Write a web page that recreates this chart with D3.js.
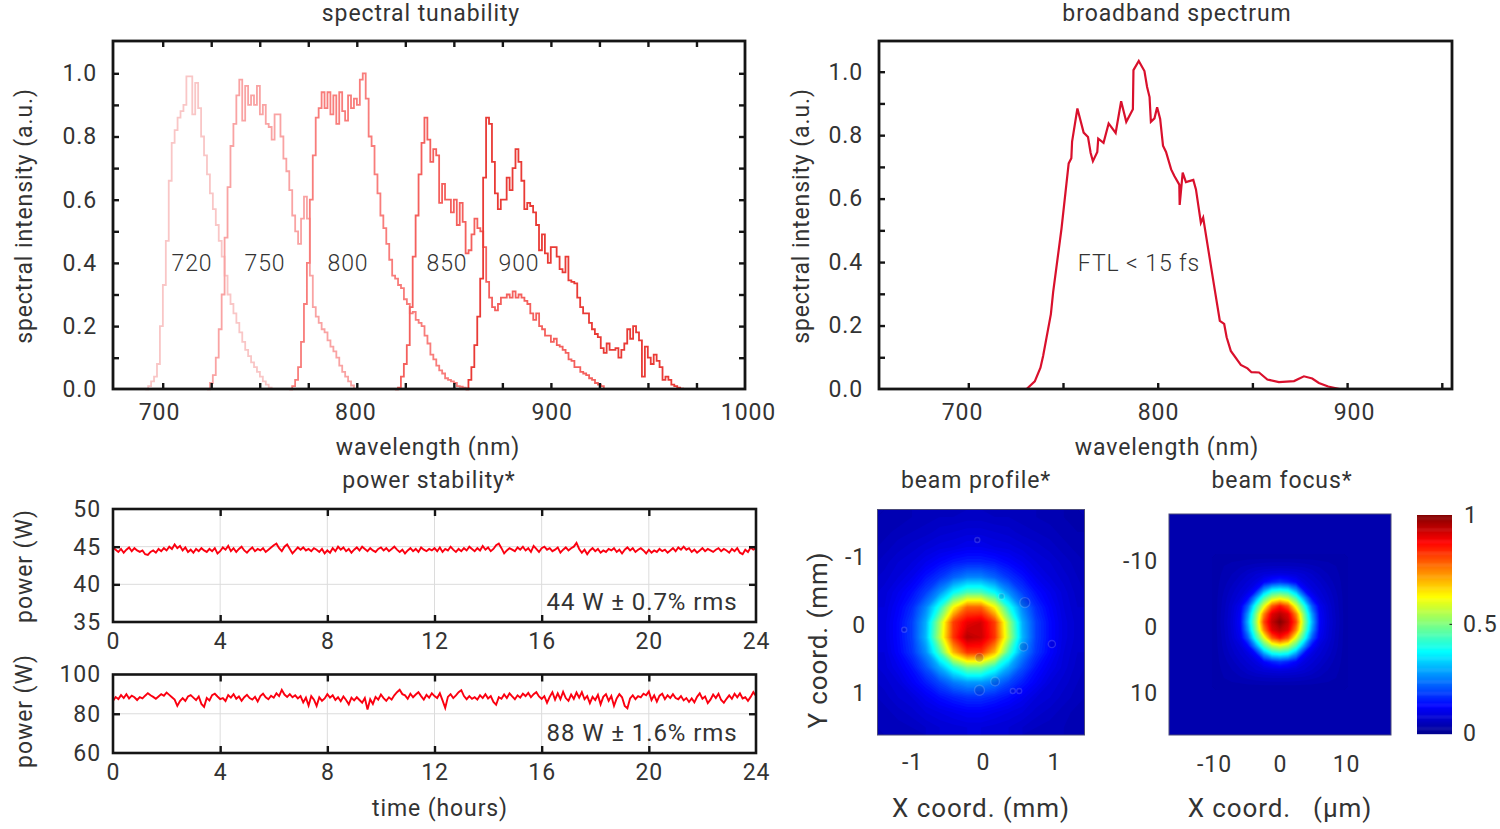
<!DOCTYPE html>
<html>
<head>
<meta charset="utf-8">
<style>
body { margin: 0; background: #fff; }
svg text { font-family: Roboto, sans-serif; font-weight: 400; fill: #333; font-size: 23px; letter-spacing: .9px; }
svg .tick text { font-size: 23px; }
</style>
<script src="https://cdn.jsdelivr.net/npm/d3@7"></script>
</head>
<body>
<svg id="chart" width="1500" height="829"></svg>
<script>
// spectral tunability: one value every 1.515 nm from the start wavelength
var tuneStep = 1.515;
var tuneLabels = ["720", "750", "800", "850", "900"];
var tuneStarts = [691, 722.8, 765.2, 819.7, 856];
var tuneColors = ["#f9c6c6", "#f9a3a3", "#f87d7b", "#f4605d", "#e93b36"];
var intensity720 = [0,.01,.025,.04,.08,.2,.33,.47,.66,.78,.82,.86,.88,.90,.99,.99,.87,.97,.89,.80,.74,.68,.62,.57,.52,.47,.42,.36,.30,.27,.24,.21,.18,.15,.125,.105,.085,.07,.055,.04,.025,.015,.005,0];
var intensity750 = [0,.02,.045,.10,.19,.30,.48,.64,.77,.84,.93,.98,.85,.96,.90,.93,.90,.96,.87,.90,.84,.83,.79,.87,.87,.80,.73,.69,.63,.55,.50,.46,.54,.61,.54,.36,.26,.23,.21,.19,.18,.155,.135,.12,.10,.075,.055,.04,.025,.012,0];
var intensity800 = [0,.01,.03,.07,.15,.27,.40,.60,.74,.86,.89,.94,.89,.94,.87,.93,.84,.94,.88,.85,.93,.89,.92,.90,.98,1.0,.92,.80,.77,.68,.62,.55,.51,.46,.41,.36,.35,.33,.32,.285,.27,.24,.245,.22,.21,.20,.17,.145,.11,.095,.075,.06,.05,.035,.03,.025,.02,.01,.008,.005,.003,0];
var intensity850 = [0,.005,.04,.08,.14,.26,.42,.55,.68,.78,.86,.79,.72,.76,.74,.59,.65,.60,.60,.56,.60,.52,.59,.53,.43,.44,.49,.54,.51,.50,.45,.34,.29,.26,.25,.27,.29,.29,.30,.29,.31,.29,.30,.29,.28,.27,.24,.22,.24,.20,.19,.17,.17,.15,.16,.14,.135,.125,.115,.095,.09,.07,.07,.055,.05,.045,.035,.03,.02,.015,.01,0];
var intensity900 = [0,.03,.07,.14,.23,.35,.67,.86,.84,.72,.62,.57,.60,.60,.67,.63,.70,.76,.72,.66,.57,.59,.58,.56,.52,.44,.49,.43,.40,.45,.45,.42,.38,.37,.42,.345,.34,.335,.29,.26,.24,.24,.21,.19,.175,.165,.13,.115,.145,.125,.125,.13,.10,.125,.145,.19,.16,.20,.18,.155,.04,.135,.10,.08,.11,.09,.07,.03,.04,.03,.015,.01,.005,.002,0];

// broadband spectrum
var broadWave = [730.8,735.1,738.1,739.5,743.6,744.8,749.2,753,754.4,754.8,757.6,760.9,763.2,764.6,765.8,768.1,768.6,771.4,774.1,777.8,780.7,783.4,786.9,787.2,790,793,794.4,795.7,796.4,798.3,799.7,801.3,802.8,804.4,807.1,808.8,811.4,811.6,813.2,814.9,818.8,820.2,822.8,824,829.9,832.8,835.1,836.4,838.6,843.9,847.4,849.5,853.5,857.9,864,872,877.2,881.6,885.1,890,896];
var broadValue = [0,.024,.067,.104,.236,.305,.505,.711,.727,.78,.884,.808,.794,.744,.718,.747,.789,.776,.837,.807,.907,.842,.882,1.005,1.034,1.002,.952,.92,.842,.853,.888,.851,.767,.747,.692,.671,.644,.58,.682,.652,.659,.629,.524,.54,.321,.215,.205,.163,.12,.076,.065,.053,.052,.03,.022,.025,.04,.033,.019,.008,0];

// power stability: one reading every 0.1 hours
var power44 = [
44.9,44.6,44.3,44.7,44.2,44.6,44.9,44.4,44.8,44.5,
44.3,44.5,44.0,43.9,44.3,44.5,44.2,44.7,44.4,44.8,
44.5,45.0,44.7,45.3,44.8,45.1,44.5,44.9,44.3,44.6,
44.2,44.7,44.4,44.8,44.5,44.3,44.7,44.4,44.8,44.1,
44.4,44.9,44.6,45.1,44.4,44.8,44.3,44.7,45.0,44.5,
44.2,44.6,44.9,44.4,44.7,44.5,44.8,44.3,44.6,44.9,
45.2,45.4,44.8,44.4,45.0,45.3,44.7,44.1,44.5,44.9,
44.6,44.9,44.5,44.7,44.4,44.8,44.6,44.3,44.7,44.1,
44.5,44.2,44.8,44.4,45.0,44.6,44.9,44.4,44.7,44.2,
44.6,44.9,44.5,45.0,44.7,44.4,44.8,44.5,44.3,44.7,
44.9,44.5,44.8,44.4,44.7,45.0,44.6,44.3,44.6,44.1,
44.5,44.8,44.4,44.7,44.3,44.9,44.6,44.4,44.7,44.5,
44.8,44.4,44.9,44.3,44.7,44.5,45.0,44.6,44.3,44.7,
44.4,44.8,44.5,45.0,44.7,44.4,44.8,44.5,45.1,44.6,
44.9,44.4,44.7,45.2,45.4,44.8,44.1,44.5,44.8,44.6,
44.4,44.9,44.6,45.0,44.5,44.8,44.3,45.1,44.7,44.3,
44.8,45.0,44.6,44.8,44.4,44.6,44.9,44.2,44.6,44.9,
44.5,44.8,45.0,45.5,44.7,44.2,44.6,44.0,44.5,44.8,
44.4,44.7,44.2,44.5,44.3,44.7,44.5,44.8,44.3,44.6,
44.1,44.6,44.9,44.5,44.8,44.3,44.6,44.8,44.5,44.1,
44.6,44.2,44.5,44.3,44.7,44.4,44.6,44.2,44.5,44.8,
44.4,44.9,44.6,45.0,44.6,44.8,44.3,44.6,44.2,44.5,
44.8,44.4,44.7,44.5,44.3,44.6,44.8,44.4,44.7,44.5,
44.2,44.7,44.4,44.8,44.2,44.0,44.6,44.3,44.9,44.6,44.8];
var power88 = [
86.5,88.5,87.5,89.5,88,90,87.8,89.2,88.4,87,
88.5,87.8,89.2,90.5,89.4,88.6,87.6,88.8,90,89.2,
90.8,89.6,88.4,87.2,84,86.5,88,86.5,88.8,89.5,
88.2,87,88.8,85,83.5,88,86.8,89.5,90.2,88.8,
87.5,88,86.5,89.5,88.2,90,87.6,88.8,86.6,88.4,
89.6,88,87.2,88.6,86.2,89,90.2,88.4,87.4,89.2,
88.2,90.4,89,92.2,89.8,88.6,90,88.4,89.4,87.8,
89,85.8,88.2,84.2,89,87.2,84,88.4,86.6,87.8,
90,88.2,89.4,87,88.4,86.4,88.8,87,84.8,88.2,
86.8,88.4,87,85.6,88,82.2,87.4,85,88.6,87.2,
89.8,88,86.6,88.4,87.2,89.4,91,92.2,90,89.4,
87.6,90.2,88.4,89.8,91,89,87.2,89.6,88.2,90.4,
89,88,90.4,86.8,83,88.6,90,88,89.4,91,
92,89,87.4,89,87.6,88.4,87.2,89.4,88,90,
87.8,89,86,84.6,88.4,87.6,89.8,88,90.4,88.8,
87.4,89.4,88.2,90.2,89,90.6,88.4,90,91,88.8,
87.6,89,85.6,88.6,91,87.2,90.4,87.4,91.2,88,
86.6,89.8,87.6,90.8,88.2,91,87.4,89,85.4,88.6,
87,89.6,84.8,88.6,90,86.6,89,84,87.8,90,
88.4,84,82.8,87.8,89.4,87.4,89,88.4,90.2,89.4,
91.4,87,89.4,86.2,89.2,90.2,87.4,89.4,88,90,
88,87.4,89,86.8,88,86,87.8,85.8,88.6,90.4,
87.6,88.8,85.4,87.2,89.8,88,90.2,87,85.6,87.6,
89.4,87.6,90.2,88.4,90.4,87.8,88.4,86.6,88.6,91,89];

// beam profile, relative intensity read on a 15 x 15 grid
var profileGrid = [
[.04,.04,.05,.055,.06,.06,.065,.065,.06,.06,.055,.05,.045,.04,.035],
[.045,.055,.06,.065,.075,.08,.085,.085,.08,.075,.065,.06,.055,.045,.04],
[.055,.065,.075,.085,.095,.10,.11,.11,.10,.095,.085,.075,.065,.055,.045],
[.065,.08,.09,.11,.13,.15,.16,.16,.15,.13,.11,.09,.08,.065,.055],
[.075,.09,.11,.145,.18,.225,.26,.26,.225,.18,.145,.11,.09,.075,.06],
[.085,.11,.14,.19,.27,.38,.45,.45,.38,.27,.19,.14,.11,.085,.065],
[.09,.125,.17,.26,.41,.63,.78,.78,.63,.41,.26,.17,.125,.09,.07],
[.095,.135,.19,.30,.54,.82,.90,.92,.82,.54,.30,.19,.135,.095,.075],
[.095,.135,.19,.31,.56,.83,.95,.93,.83,.56,.31,.19,.135,.095,.075],
[.09,.13,.18,.27,.45,.70,.83,.83,.70,.45,.27,.18,.13,.09,.07],
[.085,.11,.145,.21,.30,.41,.50,.50,.41,.30,.21,.145,.11,.085,.065],
[.075,.09,.12,.155,.20,.25,.28,.28,.25,.20,.155,.12,.09,.075,.06],
[.065,.08,.09,.115,.14,.16,.175,.175,.16,.14,.115,.09,.08,.065,.055],
[.055,.065,.075,.09,.10,.11,.12,.12,.11,.10,.09,.075,.065,.055,.045],
[.05,.055,.06,.07,.08,.085,.09,.09,.085,.08,.07,.06,.055,.05,.04]];
// dust rings on the profile: position and radius in mm
var ringX = [.59,.97,.17,-.05,-.05,.57,.42,.51,-.08,-1.11,.26];
var ringY = [-.33,.28,.83,.96,.48,.32,.97,.97,-1.25,.07,-.42];
var ringR = [.07,.05,.06,.07,.06,.06,.035,.035,.035,.035,.04];

// beam focus, relative intensity read on a 17 x 17 grid around the spot
var focusBackground = .035;
var focusGrid = [
[.035,.035,.036,.036,.037,.037,.038,.038,.038,.038,.038,.037,.037,.036,.036,.035,.035],
[.035,.04,.044,.048,.052,.056,.058,.06,.06,.06,.058,.056,.052,.048,.044,.04,.035],
[.035,.043,.05,.058,.07,.08,.087,.092,.095,.092,.087,.08,.07,.058,.05,.043,.035],
[.036,.046,.056,.07,.082,.095,.13,.16,.18,.16,.13,.095,.082,.07,.056,.046,.036],
[.036,.05,.065,.08,.095,.14,.28,.37,.39,.37,.28,.14,.095,.08,.065,.05,.036],
[.037,.054,.072,.09,.135,.28,.45,.56,.6,.56,.45,.28,.135,.09,.072,.054,.037],
[.037,.056,.08,.11,.22,.42,.6,.79,.86,.79,.6,.42,.22,.11,.08,.056,.037],
[.038,.058,.083,.12,.28,.5,.75,.91,.95,.91,.75,.5,.28,.12,.083,.058,.038],
[.038,.06,.085,.125,.31,.53,.81,.94,1,.94,.81,.53,.31,.125,.085,.06,.038],
[.038,.058,.083,.12,.28,.5,.75,.91,.95,.91,.75,.5,.28,.12,.083,.058,.038],
[.037,.056,.08,.11,.22,.42,.6,.79,.86,.79,.6,.42,.22,.11,.08,.056,.037],
[.037,.054,.072,.09,.135,.28,.45,.56,.6,.56,.45,.28,.135,.09,.072,.054,.037],
[.036,.05,.065,.08,.095,.14,.28,.37,.39,.37,.28,.14,.095,.08,.065,.05,.036],
[.036,.046,.056,.07,.082,.095,.13,.16,.18,.16,.13,.095,.082,.07,.056,.046,.036],
[.035,.043,.05,.058,.07,.08,.087,.092,.095,.092,.087,.08,.07,.058,.05,.043,.035],
[.035,.04,.044,.048,.052,.056,.058,.06,.06,.06,.058,.056,.052,.048,.044,.04,.035],
[.035,.035,.036,.036,.037,.037,.038,.038,.038,.038,.038,.037,.037,.036,.036,.035,.035]];

var jet = d3.scaleLinear()
    .domain([0, .125, .375, .625, .875, 1])
    .range(["#00008f", "#0000ff", "#00ffff", "#ffff00", "#ff0000", "#800000"]);

var svg = d3.select("#chart");
var ink = "#151515";

function addText(str, x, y, anchor, rotate, size) {
    var t = svg.append("text")
        .attr("text-anchor", anchor || "middle")
        .attr("dominant-baseline", "middle")
        .text(str);
    if (rotate) t.attr("transform", "translate(" + x + "," + y + ") rotate(-90)");
    else t.attr("x", x).attr("y", y + 2);
    if (size) t.style("font-size", size + "px");
    return t;
}

function styleTicks(g, width) {
    g.select(".domain").remove();
    g.selectAll("line").attr("stroke", ink).attr("stroke-width", width);
}

// inner tick marks on the chosen sides of a frame
function addTicks(x, y, xValues, yValues, box, sides, len) {
    var w = 2.4;
    if (sides.indexOf("b") >= 0) svg.append("g").attr("transform", "translate(0," + box.bottom + ")")
        .call(d3.axisBottom(x).tickValues(xValues).tickSize(-len).tickFormat("")).call(styleTicks, w);
    if (sides.indexOf("t") >= 0) svg.append("g").attr("transform", "translate(0," + box.top + ")")
        .call(d3.axisTop(x).tickValues(xValues).tickSize(-len).tickFormat("")).call(styleTicks, w);
    if (sides.indexOf("l") >= 0) svg.append("g").attr("transform", "translate(" + box.left + ",0)")
        .call(d3.axisLeft(y).tickValues(yValues).tickSize(-len).tickFormat("")).call(styleTicks, w);
    if (sides.indexOf("r") >= 0) svg.append("g").attr("transform", "translate(" + box.right + ",0)")
        .call(d3.axisRight(y).tickValues(yValues).tickSize(-len).tickFormat("")).call(styleTicks, w);
}

function addFrame(box, width, color) {
    svg.append("rect")
        .attr("x", box.left).attr("y", box.top)
        .attr("width", box.right - box.left).attr("height", box.bottom - box.top)
        .attr("fill", "none").attr("stroke", color || ink).attr("stroke-width", width);
}

function addXLabels(scale, values, yPos, format) {
    svg.append("g").attr("transform", "translate(0," + yPos + ")")
        .call(d3.axisBottom(scale).tickValues(values).tickSize(0).tickPadding(0).tickFormat(format || d3.format("d")))
        .call(function(g) { g.select(".domain").remove(); });
}

function addYLabels(scale, values, xPos, format) {
    svg.append("g").attr("transform", "translate(" + xPos + ",0)")
        .call(d3.axisLeft(scale).tickValues(values).tickSize(0).tickPadding(0).tickFormat(format))
        .call(function(g) { g.select(".domain").remove(); });
}

// ---- spectral tunability
var tuneBox = {left: 113, right: 745, top: 41, bottom: 389};
var tuneX = d3.scaleLinear().domain([674.4, 1000]).range([tuneBox.left, tuneBox.right]);
var tuneY = d3.scaleLinear().domain([0, 1]).range([389.3, 73.3]);
var tuneLabelX = d3.scaleLinear().domain([700, 1000]).range([159, 748]);

function addTune(values, start, color) {
    var line = d3.line()
        .x(function(d, i) { return tuneX(start + i * tuneStep); })
        .y(function(d) { return tuneY(d); })
        .curve(d3.curveStepAfter);
    svg.append("path").datum(values).attr("d", line)
        .attr("fill", "none").attr("stroke", color).attr("stroke-width", 1.8);
}
[intensity720, intensity750, intensity800, intensity850, intensity900].forEach(function(v, i) {
    addTune(v, tuneStarts[i], tuneColors[i]);
});

addTicks(tuneX, tuneY, d3.range(700, 1000, 25), d3.range(.1, 1.01, .1), tuneBox, "btlr", 6);
addFrame(tuneBox, 2.8);
addXLabels(tuneLabelX, [700, 800, 900, 1000], 404);
addYLabels(tuneY, [0, .2, .4, .6, .8, 1], 97, d3.format(".1f"));

var tuneLabelPos = [192, 265, 348, 447, 519];
tuneLabels.forEach(function(s, i) { addText(s, tuneLabelPos[i], 263).style("font-weight", 300); });
addText("spectral tunability", 421, 13);
addText("wavelength (nm)", 428, 447);
addText("spectral intensity (a.u.)", 26, 216, "middle", true);

// ---- broadband spectrum
var broadBox = {left: 879, right: 1452, top: 41, bottom: 389};
var broadX = d3.scaleLinear().domain([800, 900]).range([1157.7, 1347.1]);
var broadY = d3.scaleLinear().domain([0, 1]).range([389, 71.7]);
var broadLabelX = d3.scaleLinear().domain([700, 900]).range([962, 1354]);

svg.append("path").datum(d3.zip(broadWave, broadValue))
    .attr("d", d3.line()
        .x(function(d) { return broadX(d[0]); })
        .y(function(d) { return broadY(d[1]); }))
    .attr("fill", "none").attr("stroke", "#d9102c").attr("stroke-width", 2.2);

addTicks(broadX, broadY, d3.range(700, 951, 50), d3.range(.1, 1.01, .1), broadBox, "bl", 6);
addFrame(broadBox, 2.8);
addXLabels(broadLabelX, [700, 800, 900], 404);
addYLabels(broadY, [0, .2, .4, .6, .8, 1], 863, d3.format(".1f"));

addText("FTL < 15 fs", 1139, 263).style("font-weight", 300);
addText("broadband spectrum", 1177, 13);
addText("wavelength (nm)", 1167, 447);
addText("spectral intensity (a.u.)", 803, 216, "middle", true);

// ---- power stability
var hours = [0, 4, 8, 12, 16, 20, 24];

function addPower(values, box, domain, yLabels, yGrid, note) {
    var x = d3.scaleLinear().domain([0, 24]).range([box.left, box.right]);
    var y = d3.scaleLinear().domain(domain).range([box.bottom, box.top]);

    svg.append("g").selectAll("line").data(hours.slice(1, -1)).join("line")
        .attr("x1", x).attr("x2", x).attr("y1", box.top).attr("y2", box.bottom)
        .attr("stroke", "#dcdcdc");
    svg.append("g").selectAll("line").data(yGrid).join("line")
        .attr("y1", y).attr("y2", y).attr("x1", box.left).attr("x2", box.right)
        .attr("stroke", "#dcdcdc");

    var line = d3.line()
        .x(function(d, i) { return x(i * .1); })
        .y(function(d) { return y(d); });
    svg.append("path").datum(values).attr("d", line)
        .attr("fill", "none").attr("stroke", "#fb0010").attr("stroke-width", 1.9);

    addTicks(x, y, hours.slice(1, -1), yGrid, box, "btlr", 7);
    addFrame(box, 2.6);
    addXLabels(x, hours, box.bottom + 11);
    addYLabels(y, yLabels, box.left - 12, d3.format("d"));
    addText(note, 642, box.bottom - 20, "middle", false, 24);
}

addPower(power44, {left: 113, right: 756, top: 509, bottom: 622}, [35, 50], [35, 40, 45, 50], [40, 45], "44 W ± 0.7% rms");
addPower(power88, {left: 113, right: 756, top: 674.5, bottom: 753}, [60, 100], [60, 80, 100], [80], "88 W ± 1.6% rms");

addText("power stability*", 429, 480);
addText("time (hours)", 440, 808);
addText("power (W)", 26, 566, "middle", true);
addText("power (W)", 26, 711, "middle", true);

// ---- beam images
function addHeat(grid, x0, x1, y0, y1, background, clipId, box) {
    var rows = grid.length, cols = grid[0].length;
    var gx = d3.scaleLinear().domain([0, cols]).range([x0, x1]);
    var gy = d3.scaleLinear().domain([0, rows]).range([y0, y1]);
    var project = d3.geoTransform({point: function(a, b) { this.stream.point(gx(a), gy(b)); }});
    var contours = d3.contours().size([cols, rows]).thresholds(d3.range(.01, 1.001, .01))(d3.merge(grid));

    svg.append("clipPath").attr("id", clipId).append("rect")
        .attr("x", box.left).attr("y", box.top)
        .attr("width", box.right - box.left).attr("height", box.bottom - box.top);
    var g = svg.append("g").attr("clip-path", "url(#" + clipId + ")");
    g.append("rect")
        .attr("x", box.left).attr("y", box.top)
        .attr("width", box.right - box.left).attr("height", box.bottom - box.top)
        .attr("fill", jet(background));
    g.selectAll("path").data(contours).join("path")
        .attr("d", d3.geoPath(project))
        .attr("fill", function(d) { return jet(d.value); });
    return g;
}

var profileBox = {left: 877.5, right: 1084.5, top: 509.5, bottom: 735};
var profileX = d3.scaleLinear().domain([-1, 1]).range([912, 1054]);
var profileY = d3.scaleLinear().domain([-1, 1]).range([557, 693]);
var profileImage = addHeat(profileGrid, profileBox.left, profileBox.right, profileBox.top, profileBox.bottom, .04, "clipProfile", profileBox);

profileImage.selectAll("circle").data(ringX).join("circle")
    .attr("cx", function(d) { return profileX(d); })
    .attr("cy", function(d, i) { return profileY(ringY[i]); })
    .attr("r", function(d, i) { return profileX(ringR[i]) - profileX(0); })
    .attr("fill", "rgba(0,0,120,.18)")
    .attr("stroke", "rgba(255,255,255,.16)")
    .attr("stroke-width", 1.4);

addFrame(profileBox, 1, "#4a4a7a");
addXLabels(profileX, [-1, 0, 1], 754, function(d) { return String(d); });
addYLabels(profileY, [-1, 0, 1], 866, function(d) { return String(d); });
addText("beam profile*", 976, 480);
addText("X coord. (mm)", 981, 808, "middle", false, 26);
addText("Y coord. (mm)", 820, 640, "middle", true, 26);

var focusBox = {left: 1169, right: 1391, top: 514, bottom: 735};
var focusX = d3.scaleLinear().domain([-10, 10]).range([1214, 1346]);
var focusY = d3.scaleLinear().domain([-10, 10]).range([561, 693]);
addHeat(focusGrid, 1212, 1348, 554, 690, focusBackground, "clipFocus", focusBox);

addFrame(focusBox, 1, "#4a4a7a");
addXLabels(focusX, [-10, 0, 10], 756, function(d) { return String(d); });
addYLabels(focusY, [-10, 0, 10], 1158, function(d) { return String(d); });
addText("beam focus*", 1282, 480);
addText("X coord.   (μm)", 1280, 808, "middle", false, 26).style("white-space", "pre");

// ---- colour bar
var barY = d3.scaleLinear().domain([0, 1]).range([733.7, 515]);
svg.append("g").selectAll("rect").data(d3.range(0, 1, .005)).join("rect")
    .attr("x", 1417).attr("width", 35)
    .attr("y", function(d) { return barY(d + .005); })
    .attr("height", function(d) { return barY(d) - barY(d + .005) + .5; })
    .attr("fill", function(d) { return jet(d); });
svg.append("line")
    .attr("x1", 1449.5).attr("x2", 1452)
    .attr("y1", barY(.5)).attr("y2", barY(.5)).attr("stroke", ink);
addText("1", 1464, 515, "start");
addText("0.5", 1463, 624, "start");
addText("0", 1463, 733, "start");
</script>
</body>
</html>
